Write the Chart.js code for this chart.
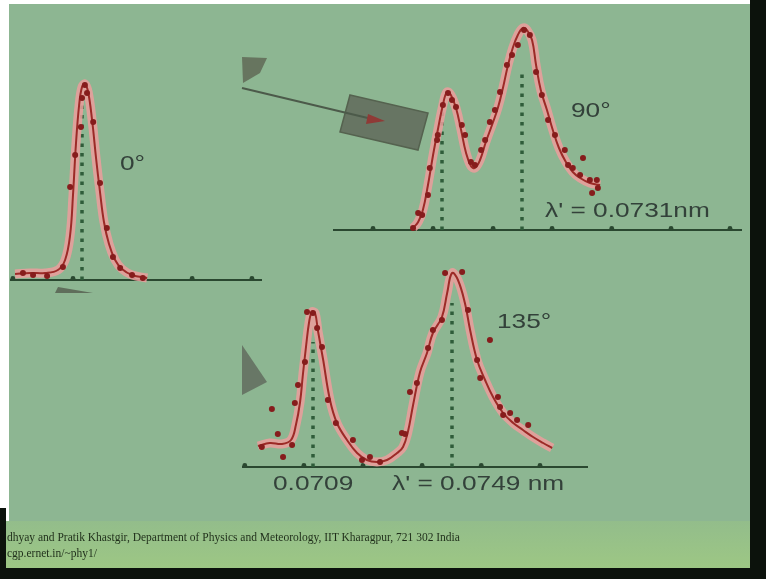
<!DOCTYPE html>
<html>
<head>
<meta charset="utf-8">
<script src="https://cdn.jsdelivr.net/npm/chart.js@4.4.0/dist/chart.umd.min.js"></script>
<style>
  body { margin: 0; width: 766px; height: 579px; background: #fff; position: relative; overflow: hidden;
         font-family: "Liberation Sans", Arial, sans-serif; }
  #wrap { position: absolute; left: 0; top: 0; width: 766px; height: 579px; filter: blur(0.5px); }
  #slide { position: absolute; left: 9px; top: 4px; width: 741px; height: 564px; background: #8db692; }
  #foot { position: absolute; left: 6px; top: 521px; width: 744px; height: 47px;
          background: linear-gradient(#93bd8b, #9dc784); }
  .blk { position: absolute; background: #0c120c; }
  canvas { position: absolute; }
  .lbl { position: absolute; font-size: 21px; line-height: 21px; color: #33413a; white-space: nowrap;
         transform: scaleX(1.25); transform-origin: left center; }
  .ft { position: absolute; left: 7px; font-family: "Liberation Serif", serif; font-size: 11.5px; line-height: 12px;
        color: #1f2e1a; white-space: nowrap; }
</style>
</head>
<body>
<div id="wrap">
<div id="slide"></div>
<div id="foot"></div>
<div class="blk" style="left:750px;top:0;width:16px;height:579px"></div>
<div class="blk" style="left:0;top:568px;width:766px;height:11px"></div>
<div class="blk" style="left:0;top:508px;width:6px;height:71px"></div>
<canvas id="deco" width="766" height="579" style="left:0;top:0"></canvas>
<canvas id="c0" width="252" height="230" style="left:10px;top:60px"></canvas>
<canvas id="c90" width="409" height="240" style="left:333px;top:5px"></canvas>
<canvas id="c135" width="346" height="250" style="left:242px;top:247px"></canvas>

<div class="lbl" style="left:120px;top:152px">0°</div>
<div class="lbl" style="left:571px;top:99px">90°</div>
<div class="lbl" style="left:497px;top:310px">135°</div>
<div class="lbl" style="left:545px;top:199px">λ' = 0.0731nm</div>
<div class="lbl" style="left:273px;top:472px">0.0709</div>
<div class="lbl" style="left:392px;top:472px">λ' = 0.0749 nm</div>

<div class="ft" style="top:531px">dhyay and Pratik Khastgir, Department of Physics and Meteorology, IIT Kharagpur, 721 302 India</div>
<div class="ft" style="top:547px">cgp.ernet.in/~phy1/</div>
</div>

<script>
// wavelength in nm, intensity in arbitrary counts

// 0 degrees
const ticks0 = [0.06898, 0.07065, 0.07232, 0.07396, 0.07562];
const fitX0 = [0.06904, 0.06946, 0.06987, 0.07023, 0.07043, 0.07057, 0.07065, 0.07073, 0.07082, 0.07090,
               0.07098, 0.07107, 0.07118, 0.07129, 0.07140, 0.07151, 0.07165, 0.07182, 0.07201, 0.07229, 0.07271];
const fitY0 = [6, 7, 7, 10, 20, 45, 85, 135, 175, 193, 196, 188, 160, 122, 88, 58, 36, 20, 11, 5, 2];
const obsX0 = [0.06926, 0.06954, 0.06993, 0.07037, 0.07057, 0.07071, 0.07087, 0.07090, 0.07098, 0.07104,
               0.07121, 0.07140, 0.07159, 0.07176, 0.07196, 0.07229, 0.07259];
const obsY0 = [7, 5, 4, 13, 93, 125, 153, 182, 195, 187, 158, 97, 52, 23, 12, 5, 2];
const peaks0 = [0.0709];
const peakTop0 = [185];

// 90 degrees
const ticks90 = [0.06900, 0.07065, 0.07230, 0.07392, 0.07556, 0.07719, 0.07881];
const fitX90 = [0.07010, 0.07024, 0.07037, 0.07051, 0.07065, 0.07078, 0.07092, 0.07103, 0.07114, 0.07128,
                0.07142, 0.07155, 0.07169, 0.07180, 0.07194, 0.07210, 0.07227, 0.07243, 0.07257, 0.07271,
                0.07284, 0.07298, 0.07312, 0.07323, 0.07337, 0.07348, 0.07361, 0.07378, 0.07394, 0.07411,
                0.07430, 0.07449, 0.07469, 0.07496, 0.07524];
const fitY90 = [2, 8, 20, 45, 75, 100, 125, 138, 135, 122, 100, 78, 64, 62, 70, 88, 105, 122, 142, 165,
                182, 195, 202, 200, 190, 165, 140, 120, 100, 82, 68, 58, 52, 47, 45];
const obsX90 = [0.07010, 0.07024, 0.07035, 0.07051, 0.07056, 0.07076, 0.07078, 0.07092, 0.07106, 0.07117,
                0.07128, 0.07144, 0.07153, 0.07169, 0.07180, 0.07197, 0.07208, 0.07221, 0.07235, 0.07249,
                0.07268, 0.07282, 0.07298, 0.07315, 0.07331, 0.07348, 0.07364, 0.07381, 0.07400, 0.07427,
                0.07436, 0.07449, 0.07469, 0.07477, 0.07496, 0.07502, 0.07515, 0.07518];
const obsY90 = [2, 17, 15, 35, 62, 90, 95, 125, 137, 130, 123, 105, 95, 68, 65, 80, 90, 108, 120, 138,
                165, 175, 185, 200, 195, 158, 135, 110, 95, 80, 65, 62, 55, 72, 50, 37, 50, 42];
const peaks90 = [0.0709, 0.0731];
const peakTop90 = [125, 160];

// 135 degrees
const ticks135 = [0.06894, 0.07064, 0.07234, 0.07404, 0.07574, 0.07743];
const fitX135 = [0.06932, 0.06966, 0.07001, 0.07027, 0.07041, 0.07053, 0.07061, 0.07070, 0.07079, 0.07087,
                 0.07096, 0.07104, 0.07119, 0.07139, 0.07159, 0.07188, 0.07217, 0.07245, 0.07274, 0.07303,
                 0.07332, 0.07349, 0.07363, 0.07378, 0.07398, 0.07418, 0.07435, 0.07461, 0.07476, 0.07490,
                 0.07507, 0.07527, 0.07542, 0.07562, 0.07585, 0.07608, 0.07637, 0.07666, 0.07694, 0.07723,
                 0.07752, 0.07778];
const fitY135 = [21, 24, 23, 27, 42, 65, 92, 120, 145, 155, 154, 137, 108, 67, 44, 27, 14, 7, 5, 7,
                 14, 20, 35, 62, 95, 114, 134, 150, 174, 194, 187, 164, 137, 107, 87, 70, 54, 44, 37, 30,
                 24, 19];
const obsX135 = [0.06943, 0.06972, 0.06989, 0.07004, 0.07030, 0.07038, 0.07047, 0.07067, 0.07073, 0.07090,
                 0.07102, 0.07116, 0.07133, 0.07156, 0.07205, 0.07231, 0.07254, 0.07283, 0.07346, 0.07355,
                 0.07369, 0.07389, 0.07421, 0.07435, 0.07461, 0.07470, 0.07519, 0.07536, 0.07562, 0.07571,
                 0.07599, 0.07622, 0.07628, 0.07637, 0.07657, 0.07677, 0.07709];
const obsY135 = [20, 58, 33, 10, 22, 64, 82, 105, 155, 154, 139, 120, 67, 44, 27, 7, 10, 5, 34, 33,
                 75, 84, 119, 137, 147, 194, 195, 157, 107, 89, 127, 70, 60, 52, 54, 47, 42];
const peaks135 = [0.0709, 0.0749];
const peakTop135 = [125, 164];

const pts = (xs, ys) => xs.map((x, i) => ({ x: x, y: ys[i] }));

// axis line, small tick dots and dotted peak markers
const axisDeco = {
  id: 'axisDeco',
  beforeDatasetsDraw(chart, args, opts) {
    const ctx = chart.ctx;
    const xs = chart.scales.x, ys = chart.scales.y;
    const y0 = ys.getPixelForValue(0);
    ctx.save();
    ctx.strokeStyle = '#2a4830';
    ctx.lineWidth = 2;
    ctx.beginPath();
    ctx.moveTo(chart.chartArea.left, y0);
    ctx.lineTo(chart.chartArea.right, y0);
    ctx.stroke();
    ctx.fillStyle = '#2a4830';
    opts.ticks.forEach(t => {
      ctx.beginPath();
      ctx.arc(xs.getPixelForValue(t), y0 - 1.5, 2.4, 0, Math.PI * 2);
      ctx.fill();
    });
    ctx.strokeStyle = '#2f5c3a';
    ctx.lineWidth = 3.5;
    ctx.setLineDash([3.5, 6]);
    opts.peaks.forEach((p, i) => {
      const px = Math.round(xs.getPixelForValue(p));
      ctx.beginPath();
      ctx.moveTo(px, y0);
      ctx.lineTo(px, ys.getPixelForValue(opts.tops[i]));
      ctx.stroke();
    });
    ctx.restore();
  }
};

function spectrum(id, xMin, xMax, yMax, padBottom, fitX, fitY, obsX, obsY, ticks, peaks, tops) {
  return new Chart(document.getElementById(id), {
    type: 'scatter',
    data: {
      datasets: [
        { data: pts(obsX, obsY), showLine: false, pointRadius: 3, pointBackgroundColor: '#861c1c',
          pointBorderWidth: 0, order: 0, clip: false },
        { data: pts(fitX, fitY), showLine: true, borderColor: '#9c2a27', borderWidth: 2, tension: 0.4,
          pointRadius: 0, order: 1, clip: false },
        { data: pts(fitX, fitY), showLine: true, borderColor: 'rgba(236,158,156,0.85)', borderWidth: 9,
          tension: 0.4, pointRadius: 0, order: 2, clip: false }
      ]
    },
    options: {
      responsive: false,
      animation: false,
      layout: { autoPadding: false, padding: { top: 20, bottom: padBottom, left: 0, right: 0 } },
      scales: {
        x: { type: 'linear', min: xMin, max: xMax, display: false },
        y: { min: 0, max: yMax, display: false }
      },
      plugins: {
        legend: { display: false },
        tooltip: { enabled: false },
        axisDeco: { ticks: ticks, peaks: peaks, tops: tops }
      }
    },
    plugins: [axisDeco]
  });
}

spectrum('c0', 0.0689, 0.0759, 200, 10, fitX0, fitY0, obsX0, obsY0, ticks0, peaks0, peakTop0);
spectrum('c90', 0.0679, 0.07914, 205, 15, fitX90, fitY90, obsX90, obsY90, ticks90, peaks90, peakTop90);
spectrum('c135', 0.06886, 0.07881, 200, 30, fitX135, fitY135, obsX135, obsY135, ticks135, peaks135, peakTop135);

// slide sketch: x-ray source, beam, scatterer and crystal wedges
const d = document.getElementById('deco').getContext('2d');
function poly(p, fill, stroke) {
  d.beginPath();
  d.moveTo(p[0][0], p[0][1]);
  p.slice(1).forEach(q => d.lineTo(q[0], q[1]));
  d.closePath();
  d.fillStyle = fill;
  d.fill();
  if (stroke) { d.strokeStyle = stroke; d.lineWidth = 1.5; d.stroke(); }
}
poly([[242, 57], [267, 58], [260, 73], [243, 83]], '#67755f');
poly([[350, 95], [428, 113], [418, 150], [340, 132]], '#677563', '#55624f');
d.strokeStyle = '#4c5a4a';
d.lineWidth = 2;
d.beginPath();
d.moveTo(242, 88);
d.lineTo(372, 119);
d.stroke();
poly([[368, 114], [385, 121], [366, 124]], '#8f3a36');
poly([[58, 287], [93, 293], [55, 293]], '#5f6e5b');
poly([[242, 345], [267, 382], [242, 395]], '#687766');
</script>
</body>
</html>
